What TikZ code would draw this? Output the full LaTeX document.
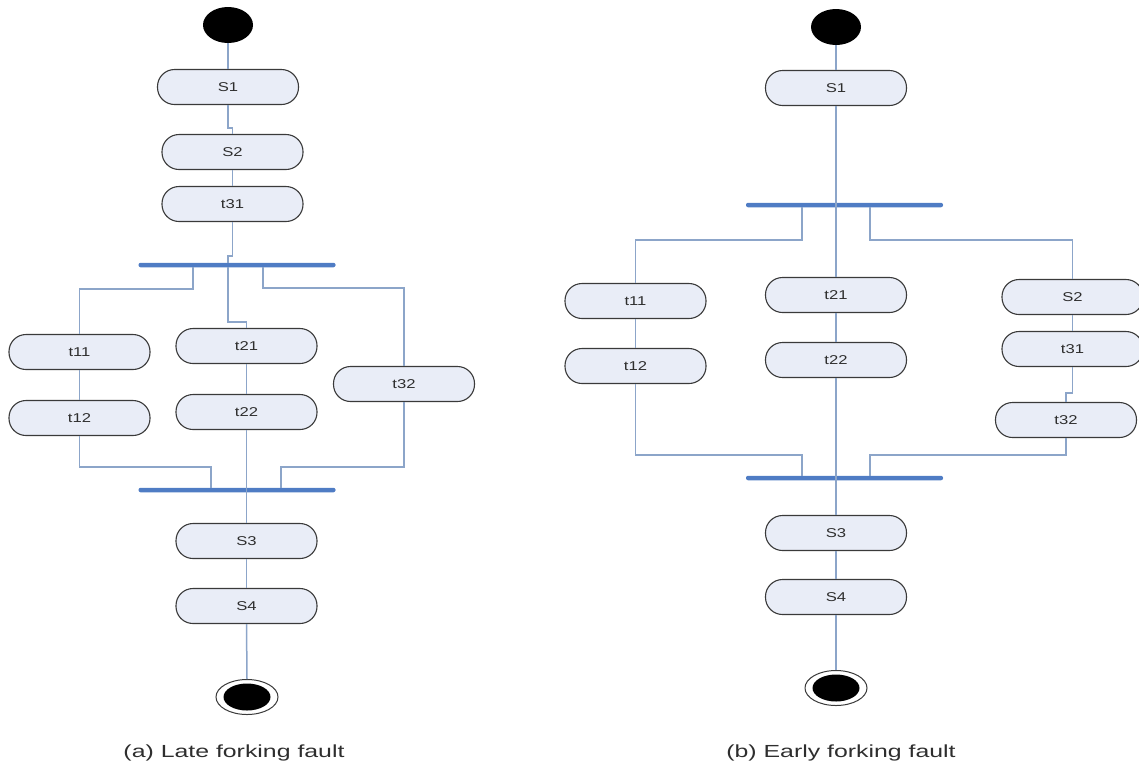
\documentclass[tikz,border=0pt]{standalone}
\usepackage{fontspec}
\setmainfont{Liberation Sans}
\usetikzlibrary{shapes.geometric}
\definecolor{conncol}{HTML}{8CA5C9}
\definecolor{barcol}{HTML}{4F7CC4}
\definecolor{boxfill}{HTML}{E9EDF7}
\definecolor{boxdraw}{HTML}{3A3A3A}
\definecolor{txtcol}{HTML}{2E2E2E}
\newcommand{\lbl}[1]{\fontsize{12.8}{14}\selectfont\scalebox{1.3}[1]{#1}}
\newcommand{\captxt}[1]{\fontsize{17.5}{20}\selectfont\scalebox{1.42}[1]{#1}}
\tikzset{
  statebox/.style={draw=boxdraw, line width=1.1pt, fill=boxfill, rounded corners=17pt,
    minimum width=141pt, minimum height=35pt, inner sep=0pt, text=txtcol},
  bar/.style={fill=barcol, minimum height=4.5pt, inner sep=0pt, rounded corners=2pt},
  conn/.style={draw=conncol, line width=1.5pt},
  startnode/.style={ellipse, fill=black, minimum width=50pt, minimum height=36pt, inner sep=0pt},
  endouter/.style={ellipse, draw=boxdraw, line width=1pt, fill=white, minimum width=62pt, minimum height=35pt, inner sep=0pt},
  endinner/.style={ellipse, fill=black, minimum width=47pt, minimum height=27pt, inner sep=0pt},
  caption/.style={inner sep=0pt, text=txtcol}
}
\begin{document}
\begin{tikzpicture}[x=1pt,y=-1pt]
\useasboundingbox (0,0) rectangle (1139,769);
% ---------- (a) ----------
\node[startnode] (a0) at (228,25) {};
\node[statebox] (aS1) at (228,87) {\lbl{S1}};
\node[statebox] (aS2) at (232.5,152) {\lbl{S2}};
\node[statebox] (aT31) at (232.5,204) {\lbl{t31}};
\node[bar, minimum width=197pt] (aF) at (237,265) {};
\node[statebox] (aT11) at (79.5,352) {\lbl{t11}};
\node[statebox] (aT12) at (79.5,418) {\lbl{t12}};
\node[statebox] (aT21) at (246.5,346) {\lbl{t21}};
\node[statebox] (aT22) at (246.5,412) {\lbl{t22}};
\node[statebox] (aT32) at (404,384) {\lbl{t32}};
\node[bar, minimum width=197pt] (aJ) at (237,490) {};
\node[statebox] (aS3) at (246.5,541) {\lbl{S3}};
\node[statebox] (aS4) at (246.5,606) {\lbl{S4}};
\node[endouter] (aE) at (247,697) {};
\node[endinner] (aEi) at (247,697) {};
\node[caption] (capA) at (234,753) {\captxt{(a) Late forking fault}};

\coordinate (aj1) at (232.5,128);
\coordinate (aj2) at (228,256);
\coordinate (af1) at (193,289);
\coordinate (af2) at (228,322);
\coordinate (af3) at (263,288);
\coordinate (aj3) at (211,467);
\coordinate (aj4) at (281,467);

\draw[conn] (a0.south) -- (aS1.north);
\draw[conn] (aS1.south) |- (aj1) -- (aS2.north);
\draw[conn] (aS2.south) -- (aT31.north);
\draw[conn] (aT31.south) |- (aj2) -- (aj2 |- aF.north);
\draw[conn] (af1 |- aF.south) -- (af1) -| (aT11.north);
\draw[conn] (af2 |- aF.south) -- (af2) -| (aT21.north);
\draw[conn] (af3 |- aF.south) -- (af3) -| (aT32.north);
\draw[conn] (aT11.south) -- (aT12.north);
\draw[conn] (aT21.south) -- (aT22.north);
\draw[conn] (aT12.south) |- (aj3) -- (aj3 |- aJ.north);
\draw[conn] (aT32.south) |- (aj4) -- (aj4 |- aJ.north);
\draw[conn] (aT22.south) -- (aS3.north);
\draw[conn] (aS3.south) -- (aS4.north);
\draw[conn] (aS4.south) -- (aE.north);

% ---------- (b) ----------
\node[startnode] (b0) at (836,27) {};
\node[statebox] (bS1) at (836,88) {\lbl{S1}};
\node[bar, minimum width=197pt] (bF) at (844.5,205) {};
\node[statebox] (bT11) at (635.5,301) {\lbl{t11}};
\node[statebox] (bT12) at (635.5,366) {\lbl{t12}};
\node[statebox] (bT21) at (836,295) {\lbl{t21}};
\node[statebox] (bT22) at (836,360) {\lbl{t22}};
\node[statebox] (bS2) at (1072.5,297) {\lbl{S2}};
\node[statebox] (bT31) at (1072.5,349) {\lbl{t31}};
\node[statebox] (bT32) at (1066,420) {\lbl{t32}};
\node[bar, minimum width=197pt] (bJ) at (844.5,478) {};
\node[statebox] (bS3) at (836,533) {\lbl{S3}};
\node[statebox] (bS4) at (836,597) {\lbl{S4}};
\node[endouter] (bE) at (836,688) {};
\node[endinner] (bEi) at (836,688) {};
\node[caption] (capB) at (841,753) {\captxt{(b) Early forking fault}};

\coordinate (bf1) at (802,240);
\coordinate (bf3) at (870,240);
\coordinate (bj1) at (1066,393);
\coordinate (bj2) at (802,455);
\coordinate (bj3) at (870,455);

\draw[conn] (b0.south) -- (bS1.north);
\draw[conn] (bS1.south) -- (bT21.north);
\draw[conn] (bf1 |- bF.south) -- (bf1) -| (bT11.north);
\draw[conn] (bf3 |- bF.south) -- (bf3) -| (bS2.north);
\draw[conn] (bT11.south) -- (bT12.north);
\draw[conn] (bT21.south) -- (bT22.north);
\draw[conn] (bS2.south) -- (bT31.north);
\draw[conn] (bT31.south) |- (bj1) -- (bT32.north);
\draw[conn] (bT12.south) |- (bj2) -- (bj2 |- bJ.north);
\draw[conn] (bT32.south) |- (bj3) -- (bj3 |- bJ.north);
\draw[conn] (bT22.south) -- (bS3.north);
\draw[conn] (bS3.south) -- (bS4.north);
\draw[conn] (bS4.south) -- (bE.north);
\end{tikzpicture}
\end{document}
